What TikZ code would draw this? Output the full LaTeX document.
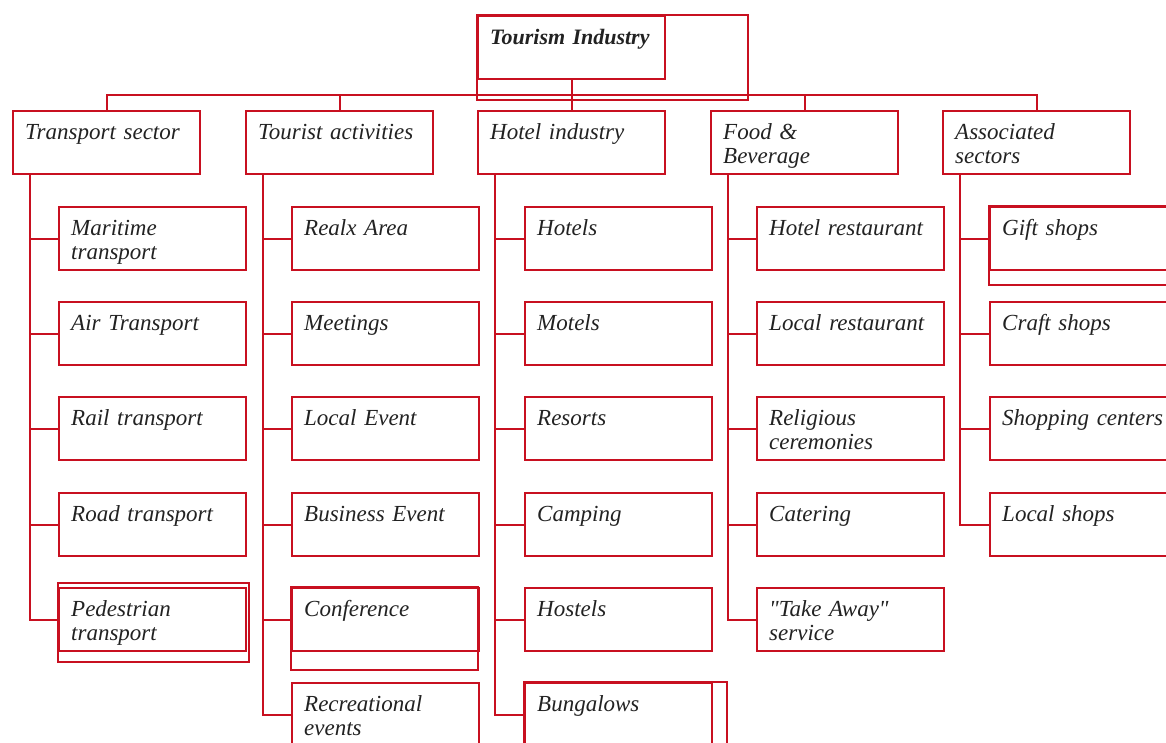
\documentclass[tikz,border=0pt]{standalone}
\usepackage{fontspec}
\setmainfont{Liberation Serif}[Ligatures=TeXOff]
\definecolor{boxred}{RGB}{200,16,32}
\definecolor{ink}{RGB}{34,34,34}

\begin{document}
\begin{tikzpicture}[x=1pt, y=-1pt,
    cell/.style={draw=boxred, line width=2.4pt, anchor=north west, text width=163pt,
        inner xsep=12pt, inner ysep=10pt, text height=18pt, text depth=25pt,
        align=left, text=ink, font=\itshape\fontsize{23}{24}\selectfont},
    ghost/.style={draw=boxred, line width=2.4pt},
    link/.style={draw=boxred, line width=2.4pt}]
        \useasboundingbox (0,0) rectangle (1166,742);

        % top of the tree
        \node[cell, font=\bfseries\itshape\fontsize{22}{24}\selectfont] (root) at (477,15) {Tourism Industry};
        \draw[ghost] (477,15) rectangle (748,100);

        % sectors
        \node[cell] (ts) at (12,110) {Transport sector};
        \node[cell] (ta) at (245,110) {Tourist activities};
        \node[cell] (hi) at (477,110) {Hotel industry};
        \node[cell] (fb) at (710,110) {Food \&\\Beverage};
        \node[cell] (as) at (942,110) {Associated\\sectors};
        \coordinate (bus) at (0,95);
        \draw[link] (ts.north) |- (bus -| as.north) -- (as.north);
        \draw[link] (ta.north |- bus) -- (ta.north);
        \draw[link] (fb.north |- bus) -- (fb.north);
        \draw[link] (root.south) -- (hi.north);

        % transport
        \node[cell] (mt) at (58,206) {Maritime\\transport};
        \node[cell] (air) at (58,301) {Air Transport};
        \node[cell] (rt) at (58,396) {Rail transport};
        \node[cell] (rd) at (58,492) {Road transport};
        \node[cell] (pt) at (58,587) {Pedestrian\\transport};
        \draw[ghost] (58,583) rectangle (249,662);

        % tourist activities
        \node[cell] (ra) at (291,206) {Realx Area};
        \node[cell] (mg) at (291,301) {Meetings};
        \node[cell] (le) at (291,396) {Local Event};
        \node[cell] (be) at (291,492) {Business Event};
        \node[cell] (cf) at (291,587) {Conference};
        \node[cell] (re) at (291,682) {Recreational\\events};
        \draw[ghost] (291,587) rectangle (478,670);

        % hotels
        \node[cell] (ho) at (524,206) {Hotels};
        \node[cell] (mo) at (524,301) {Motels};
        \node[cell] (rs) at (524,396) {Resorts};
        \node[cell] (cp) at (524,492) {Camping};
        \node[cell] (hs) at (524,587) {Hostels};
        \node[cell] (bg) at (524,682) {Bungalows};
        \draw[ghost] (524,682) rectangle (727,760);

        % food and beverage
        \node[cell] (hr) at (756,206) {Hotel restaurant};
        \node[cell] (lr) at (756,301) {Local restaurant};
        \node[cell] (rc) at (756,396) {Religious\\ceremonies};
        \node[cell] (ct) at (756,492) {Catering};
        \node[cell] (tw) at (756,587) {"Take Away"\\service};

        % associated sectors
        \node[cell] (gs) at (989,206) {Gift shops};
        \node[cell] (cs) at (989,301) {Craft shops};
        \node[cell] (sc) at (989,396) {Shopping centers};
        \node[cell] (ls) at (989,492) {Local shops};
        \draw[ghost] (989,206) rectangle (1180,285);

        % branches
        \draw[link] ([xshift=18pt]ts.south west) |- (mt.west);
        \draw[link] ([xshift=18pt]ts.south west) |- (air.west);
        \draw[link] ([xshift=18pt]ts.south west) |- (rt.west);
        \draw[link] ([xshift=18pt]ts.south west) |- (rd.west);
        \draw[link] ([xshift=18pt]ts.south west) |- (pt.west);
        \draw[link] ([xshift=18pt]ta.south west) |- (ra.west);
        \draw[link] ([xshift=18pt]ta.south west) |- (mg.west);
        \draw[link] ([xshift=18pt]ta.south west) |- (le.west);
        \draw[link] ([xshift=18pt]ta.south west) |- (be.west);
        \draw[link] ([xshift=18pt]ta.south west) |- (cf.west);
        \draw[link] ([xshift=18pt]ta.south west) |- (re.west);
        \draw[link] ([xshift=18pt]hi.south west) |- (ho.west);
        \draw[link] ([xshift=18pt]hi.south west) |- (mo.west);
        \draw[link] ([xshift=18pt]hi.south west) |- (rs.west);
        \draw[link] ([xshift=18pt]hi.south west) |- (cp.west);
        \draw[link] ([xshift=18pt]hi.south west) |- (hs.west);
        \draw[link] ([xshift=18pt]hi.south west) |- (bg.west);
        \draw[link] ([xshift=18pt]fb.south west) |- (hr.west);
        \draw[link] ([xshift=18pt]fb.south west) |- (lr.west);
        \draw[link] ([xshift=18pt]fb.south west) |- (rc.west);
        \draw[link] ([xshift=18pt]fb.south west) |- (ct.west);
        \draw[link] ([xshift=18pt]fb.south west) |- (tw.west);
        \draw[link] ([xshift=18pt]as.south west) |- (gs.west);
        \draw[link] ([xshift=18pt]as.south west) |- (cs.west);
        \draw[link] ([xshift=18pt]as.south west) |- (sc.west);
        \draw[link] ([xshift=18pt]as.south west) |- (ls.west);
\end{tikzpicture}
\end{document}
